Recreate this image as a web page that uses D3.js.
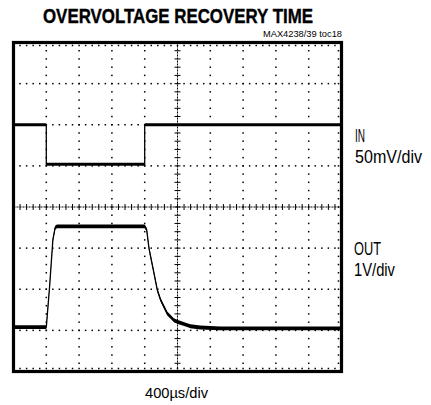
<!DOCTYPE html>
<html><head><meta charset="utf-8">
<script src="https://cdn.jsdelivr.net/npm/d3@7"></script>
<style>body{margin:0;background:#fff}</style>
</head><body>
<svg id="c" width="431" height="405"></svg>
<script>
const titleText = "OVERVOLTAGE RECOVERY TIME";
const partLabel = "MAX4238/39 toc18";
const channelNames = ["IN", "OUT"];
const channelScales = ["50mV/div", "1V/div"];
const timeLabel = "400µs/div";

// IN channel (mV relative to resting level), time in µs
const inTimeUs = [0, 400, 400, 1600, 1600, 4000];
const inMv = [0, 0, -48, -48, 0, 0];
// OUT channel (V), time in µs
const outTimeUs = [0, 400, 440, 480, 508, 530, 1600, 1624, 1652, 1673, 1713, 1754, 1794, 1875, 1955, 1996, 2118, 2158, 2279, 2520, 4000];
const outV = [0, 0, 0.98, 2.12, 2.42, 2.45, 2.45, 2.37, 1.92, 1.71, 1.31, 0.90, 0.66, 0.33, 0.17, 0.13, 0.05, 0.02, -0.01, -0.03, -0.03];

const L = 13.5, R = 341.5, T = 42.5, B = 371.5;
const svg = d3.select("#c");
const x = d3.scaleLinear().domain([0, 4000]).range([L, R]);
const yDiv = d3.scaleLinear().domain([-4, 4]).range([B, T]);
const yIn = d3.scaleLinear().domain([-300, 100]).range([B, T]);
const yOut = d3.scaleLinear().domain([-1.08, 6.92]).range([B, T]);

const font = "'Liberation Sans Narrow', 'Liberation Sans', Arial, sans-serif";

// grid dots
const g = svg.append("g").attr("fill", "#000");
const xMinor = d3.range(0, 4000.1, 80);
const yMinor = d3.range(-4, 4.001, 0.2);
const dot = (cx, cy) => g.append("rect").attr("x", cx - 0.75).attr("y", cy - 0.75).attr("width", 1.5).attr("height", 1.5);
for (let c = 1; c <= 9; c++) {
  if (c === 5) continue;
  yMinor.slice(1, -1).forEach(m => dot(x(c * 400), yDiv(m)));
}
for (let r = -3; r <= 3; r++) {
  if (r === 0) continue;
  xMinor.slice(1, -1).forEach(t => dot(x(t), yDiv(r)));
}
// edge ticks
xMinor.slice(1, -1).forEach(t => { dot(x(t), T + 3); dot(x(t), B - 3); });
yMinor.slice(1, -1).forEach(m => { dot(R - 3, yDiv(m)); });

// center crosshair
const cx0 = x(2000), cy0 = yDiv(0);
g.append("line").attr("x1", cx0).attr("x2", cx0).attr("y1", T).attr("y2", B)
  .attr("stroke", "#000").attr("stroke-width", 1).attr("stroke-dasharray", "2,1");
g.append("line").attr("x1", L).attr("x2", R).attr("y1", cy0).attr("y2", cy0)
  .attr("stroke", "#000").attr("stroke-width", 1).attr("stroke-dasharray", "2,1");
yMinor.slice(1, -1).forEach(m => g.append("line").attr("x1", cx0 - 3).attr("x2", cx0 + 3)
  .attr("y1", yDiv(m)).attr("y2", yDiv(m)).attr("stroke", "#000").attr("stroke-width", 1));
xMinor.slice(1, -1).forEach(t => g.append("line").attr("x1", x(t)).attr("x2", x(t))
  .attr("y1", cy0 - 3).attr("y2", cy0 + 3).attr("stroke", "#000").attr("stroke-width", 1));

// traces
function trace(ts, vs, ys, half) {
  const pts = ts.map((t, i) => [t, vs[i]]);
  svg.append("path").datum(pts)
    .attr("d", d3.area().x(d => x(d[0])).y0(d => ys(d[1]) - half).y1(d => ys(d[1]) + half))
    .attr("fill", "#000");
  svg.append("path").datum(pts)
    .attr("d", d3.line().x(d => x(d[0])).y(d => ys(d[1])))
    .attr("fill", "none").attr("stroke", "#000").attr("stroke-width", 1.3);
}
trace(inTimeUs, inMv, yIn, 1.4);
trace(outTimeUs, outV, yOut, 1.9);

// frame
svg.append("rect").attr("x", L).attr("y", T).attr("width", R - L).attr("height", B - T)
  .attr("fill", "none").attr("stroke", "#000").attr("stroke-width", 3.2);

// texts
svg.append("text").attr("x", 178).attr("y", 22.5).attr("text-anchor", "middle")
  .attr("font-family", font).attr("font-weight", "bold").attr("font-size", 21)
  .attr("stroke", "#000").attr("stroke-width", 0.4)
  .attr("textLength", 270).attr("lengthAdjust", "spacingAndGlyphs").text(titleText);
svg.append("text").attr("x", 342).attr("y", 37).attr("text-anchor", "end")
  .attr("font-family", font).attr("font-size", 9)
  .attr("textLength", 79).attr("lengthAdjust", "spacingAndGlyphs").text(partLabel);

const lab = (tx, ty, s, w) => svg.append("text").attr("x", tx).attr("y", ty)
  .attr("font-family", font).attr("font-size", 17.5)
  .attr("textLength", w).attr("lengthAdjust", "spacingAndGlyphs").text(s);
lab(355, 141.5, channelNames[0], 10);
lab(355, 163, channelScales[0], 67);
lab(354, 255, channelNames[1], 27);
lab(354, 276, channelScales[1], 41);
svg.append("text").attr("x", 145).attr("y", 398)
  .attr("font-family", font).attr("font-size", 14.5)
  .attr("textLength", 63).attr("lengthAdjust", "spacingAndGlyphs").text(timeLabel);
</script>
</body></html>
